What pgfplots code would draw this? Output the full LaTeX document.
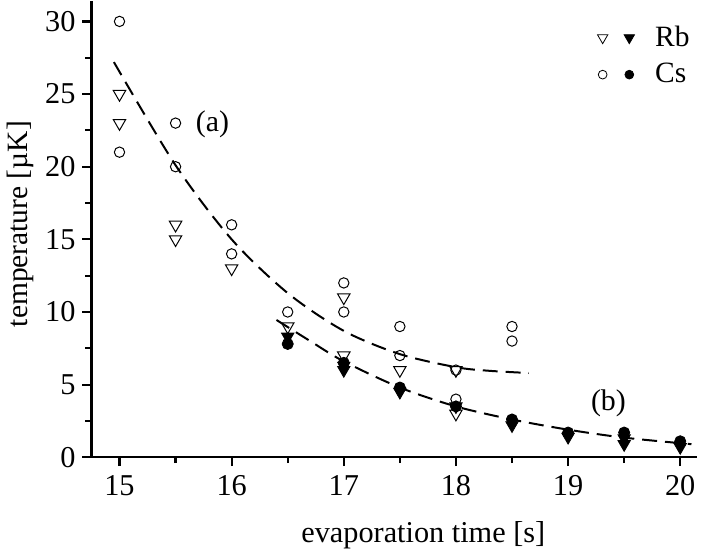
\documentclass[border=0pt]{standalone}
\usepackage{fontspec}
\setmainfont{Liberation Serif}
\usepackage{pgfplots}
\pgfplotsset{compat=1.18}

\begin{document}
\begin{tikzpicture}
\begin{axis}[
  scale only axis,
  width=304pt, height=229pt,
  xmin=14.75, xmax=20.15,
  ymin=0, ymax=31.4,
  axis x line=bottom, axis y line=left,
  axis line style={-, line width=1.1pt},
  xtick={15,16,...,20}, minor x tick num=1,
  ytick={0,5,...,30}, minor y tick num=1,
  tick align=outside,
  major tick length=4.5pt, minor tick length=3pt,
  every tick/.style={black, line width=1.1pt},
  /pgf/number format/assume math mode=true,
  tick label style={font=\fontsize{15.2}{18}\selectfont},
  xticklabel style={yshift=-1pt},
  yticklabel style={xshift=0pt},
  xlabel={evaporation time [s]},
  ylabel={temperature [µK]},
  xlabel style={font=\fontsize{15.2}{18}\selectfont, at={(axis description cs:0.548,0)}, anchor=base, yshift=-43pt},
  ylabel style={font=\fontsize{14.8}{17}\selectfont, at={(axis description cs:-0.118,0.511)}, anchor=center},
  legend style={draw=none, fill=none, at={(0.995,0.955)}, anchor=north east,
    font=\fontsize{14.8}{17}\selectfont, row sep=3pt, inner sep=0pt},
  legend cell align=left,
]
% (a) open markers
\addplot[only marks, mark=triangle, mark size=3.6pt, mark options={rotate=180, line width=0.5pt}, forget plot] coordinates {
  (15,25) (15,23) (15.5,16) (15.5,15) (16,13) (16.5,9) (17,11) (17,7) (17.5,6) (18,6) (18,3)
};
\addplot[only marks, mark=o, mark size=2.6pt, mark options={line width=0.5pt}, forget plot] coordinates {
  (15,30) (15,21) (15.5,23) (15.5,20) (16,16) (16,14) (16.5,10) (17,12) (17,10)
  (17.5,9) (17.5,7) (18,6) (18,4) (18.5,9) (18.5,8)
};
% (b) filled markers
\addplot[only marks, mark=triangle*, mark size=3.6pt, mark options={rotate=180, fill=black}, forget plot] coordinates {
  (16.5,8.3) (17,6.0) (17,6.3) (17.5,4.5) (18,3.5) (18.5,2.2) (19,1.4) (19.5,0.9) (19.5,1.3) (20,0.7)
};
\addplot[only marks, mark=*, mark size=2.8pt, mark options={fill=black}, forget plot] coordinates {
  (16.5,7.8) (17,6.5) (17.5,4.8) (18,3.5) (18.5,2.6) (19,1.7) (19.5,1.7) (20,1.1)
};
% fitted curves
\addplot[smooth, line width=1pt, dash pattern=on 7.5pt off 4pt, forget plot] coordinates {
  (14.95,27.2) (15.5,20.1) (16,15.0) (16.5,11.3) (17,8.7) (17.5,7.1) (18,6.2) (18.3,5.95) (18.65,5.8)
};
\addplot[smooth, line width=1pt, dash pattern=on 7.5pt off 4pt, forget plot] coordinates {
  (16.4,9.45) (16.7,8.0) (17,6.6) (17.5,4.8) (18,3.5) (18.5,2.6) (19,1.9) (19.5,1.35) (20.1,0.9)
};
\node[font=\fontsize{15}{18}\selectfont] at (axis cs:15.83,22.9) {(a)};
\node[font=\fontsize{15}{18}\selectfont] at (axis cs:19.36,3.7) {(b)};
\addlegendimage{legend image code/.code={
  \draw[line width=0.4pt] plot[mark=triangle, mark size=3pt, mark options={rotate=180}] coordinates {(0cm,0cm)};
  \draw plot[mark=triangle*, mark size=3pt, mark options={rotate=180, fill=black}] coordinates {(0.47cm,0cm)};
  \path (0.85cm,0cm);}}
\addlegendentry{Rb}
\addlegendimage{legend image code/.code={
  \draw[line width=0.4pt] plot[mark=o, mark size=2.2pt] coordinates {(0cm,0cm)};
  \draw plot[mark=*, mark size=2.2pt, mark options={fill=black}] coordinates {(0.47cm,0cm)};
  \path (0.85cm,0cm);}}
\addlegendentry{Cs}
\end{axis}
\end{tikzpicture}
\end{document}
